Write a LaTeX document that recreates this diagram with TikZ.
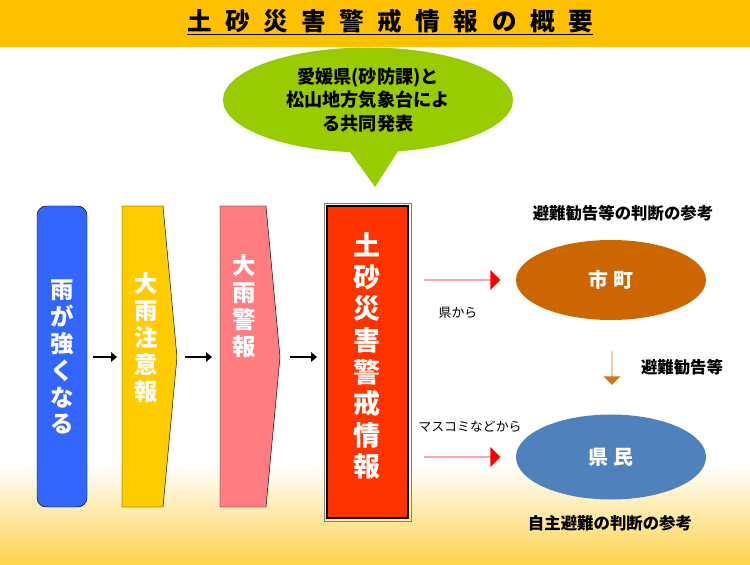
\documentclass[tikz,border=0pt]{standalone}
\usepackage{fontspec}
\setmainfont{Noto Sans CJK JP}
\usetikzlibrary{positioning,shapes.geometric,shapes.arrows,arrows.meta}
\definecolor{band}{HTML}{FFC000}
\definecolor{bubble}{HTML}{99CC00}
\definecolor{rainblue}{HTML}{3366FF}
\definecolor{advyellow}{HTML}{FFCC00}
\definecolor{warnpink}{HTML}{FF7C80}
\definecolor{alertred}{HTML}{FF3300}
\definecolor{cityorange}{HTML}{CC6600}
\definecolor{peopleblue}{HTML}{4F81BD}
\tikzset{
  vtext/.style={text=white,font=\bfseries\fontsize{20}{23}\selectfont,align=center},
  smallarrow/.style={-{Triangle[length=5pt,width=8pt]},line width=2.5pt},
  bigarrow/.style={single arrow,fill=red,draw=none,minimum height=2.3cm,minimum width=0.6cm,single arrow head extend=0.27cm,inner sep=0pt},
  note/.style={font=\fontsize{11}{13}\selectfont},
  remark/.style={font=\bfseries\fontsize{14}{16}\selectfont}
}
\begin{document}
\begin{tikzpicture}[x=0.03cm,y=-0.03cm]
  \useasboundingbox (0,0) rectangle (750,565);
  % background
  \shade[top color=white,bottom color=band!70] (0,465) rectangle (750,565);
  \fill[band] (0,0) rectangle (750,47);
  \node[font=\bfseries\fontsize{21}{23}\selectfont] (title) at (390,22)
    {\underline{土\hspace{0.55em}砂\hspace{0.55em}災\hspace{0.55em}害\hspace{0.55em}警\hspace{0.55em}戒\hspace{0.55em}情\hspace{0.55em}報\hspace{0.55em}の\hspace{0.55em}概\hspace{0.55em}要}};

  % speech bubble
  \fill[bubble] (345,145) -- (375,187) -- (402,145) -- cycle;
  \node[ellipse,fill=bubble,minimum width=8.7cm,minimum height=3.15cm,align=center,
    font=\bfseries\fontsize{15.5}{20}\selectfont] (joint) at (368,100)
    {愛媛県(砂防課)と\\松山地方気象台によ\\る共同発表};

  % stages
  \draw[fill=rainblue,rounded corners=8pt] (37,206) rectangle (87,507);
  \node[vtext] (rain) at (62,357) {雨\\が\\強\\く\\な\\る};
  \draw[fill=advyellow] (122,206) -- (163,206) -- (177,357) -- (163,507) -- (122,507) -- cycle;
  \node[vtext] (adv) at (146,338) {大\\雨\\注\\意\\報};
  \draw[fill=warnpink] (220,206) -- (266,206) -- (280,357) -- (266,507) -- (220,507) -- cycle;
  \node[vtext] (warn) at (244,306) {大\\雨\\警\\報};
  \draw[gray,line width=0.8pt] (324,203) rectangle (411,521);
  \draw[fill=alertred,line width=2.5pt] (327,206) rectangle (408,518);
  \node[vtext,font=\bfseries\fontsize{23}{27}\selectfont] (alert) at (367,356)
    {土\\砂\\災\\害\\警\\戒\\情\\報};

  \draw[smallarrow] (93,357) -- (117,357);
  \draw[smallarrow] (185,357) -- (212,357);
  \draw[smallarrow] (290,357) -- (317,357);

  % recipients
  \node[ellipse,fill=cityorange,minimum width=5.7cm,minimum height=2.4cm,text=white,
    font=\bfseries\fontsize{17}{20}\selectfont] (city) at (611,280) {市\ 町};
  \node[ellipse,fill=peopleblue,minimum width=5.7cm,minimum height=2.55cm,text=white,
    font=\bfseries\fontsize{17}{20}\selectfont] (people) at (611,457) {県\ 民};
  \node[bigarrow] (toCity) at (462,280) {};
  \node[bigarrow] (toPeople) at (462,457) {};
  \node[single arrow,fill=cityorange!90,shape border rotate=270,minimum height=1cm,
    minimum width=0.5cm,single arrow head extend=0.2cm,inner sep=0pt] (down) at (612,368) {};

  \node[note] (fromPref) at (458,313) {県から};
  \node[note] (fromMedia) at (470,427) {マスコミなどから};
  \node[remark] (order) at (682,367) {避難勧告等};
  \node[remark] (ref1) at (623,213) {避難勧告等の判断の参考};
  \node[remark] (ref2) at (610,523) {自主避難の判断の参考};
\end{tikzpicture}
\end{document}
